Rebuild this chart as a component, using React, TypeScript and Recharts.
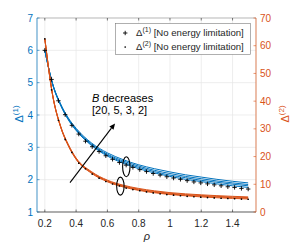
import React from 'react';
import { LineChart, Line, XAxis, YAxis, CartesianGrid, Legend, ReferenceDot, ReferenceLine } from 'recharts';

const BLUE = '#0072BD';
const ORANGE = '#D95319';
const AXIS = '#262626';
const FONT = '"Liberation Sans", Arial, Helvetica, sans-serif';

// rho sample points of the "no energy limitation" markers
const rhoMarkers = [0.2, 0.243, 0.287, 0.33, 0.373, 0.417, 0.46, 0.503, 0.547, 0.59, 0.633, 0.677, 0.72, 0.763, 0.807, 0.85, 0.893, 0.937, 0.98, 1.023, 1.067, 1.11, 1.153, 1.197, 1.24, 1.283, 1.327, 1.37, 1.413, 1.457, 1.5];
const delta1NoLimit = [6.0, 5.1, 4.44, 4.01, 3.68, 3.41, 3.19, 3.02, 2.87, 2.74, 2.63, 2.53, 2.45, 2.38, 2.31, 2.25, 2.19, 2.14, 2.09, 2.05, 2.01, 1.97, 1.93, 1.9, 1.87, 1.84, 1.81, 1.78, 1.76, 1.73, 1.71];
const delta2NoLimit = [62.5, 44.1, 33.1, 26.2, 21.5, 17.6, 15.6, 13.7, 12.2, 11.0, 10.1, 9.4, 8.65, 8.1, 7.7, 7.23, 6.88, 6.57, 6.3, 6.06, 5.86, 5.67, 5.5, 5.35, 5.21, 5.09, 4.97, 4.87, 4.78, 4.68, 4.6];

// rho sample points of the curves for each B
const rhoLines = [0.2, 0.25, 0.3, 0.35, 0.4, 0.5, 0.6, 0.7, 0.8, 0.9, 1.0, 1.1, 1.2, 1.3, 1.4, 1.5];
const bValues = [20, 5, 3, 2];
const delta1B20 = [6.0, 4.94, 4.31, 3.85, 3.52, 3.05, 2.73, 2.51, 2.34, 2.21, 2.10, 2.01, 1.94, 1.87, 1.81, 1.76];
const delta1B5 = [6.0, 4.95, 4.32, 3.87, 3.54, 3.07, 2.76, 2.54, 2.38, 2.25, 2.14, 2.06, 1.98, 1.92, 1.86, 1.81];
const delta1B3 = [6.0, 4.96, 4.34, 3.89, 3.56, 3.10, 2.79, 2.58, 2.42, 2.29, 2.19, 2.10, 2.03, 1.96, 1.90, 1.85];
const delta1B2 = [6.0, 4.97, 4.35, 3.91, 3.59, 3.13, 2.83, 2.62, 2.46, 2.34, 2.24, 2.15, 2.08, 2.01, 1.95, 1.90];
const delta2B20 = [62.5, 42.0, 30.8, 23.9, 19.0, 13.9, 10.9, 9.05, 7.8, 6.95, 6.3, 5.85, 5.45, 5.15, 4.9, 4.7];
const delta2B5 = [62.5, 42.1, 30.9, 24.0, 19.1, 14.1, 11.1, 9.25, 8.0, 7.15, 6.5, 6.05, 5.7, 5.4, 5.15, 4.95];
const delta2B3 = [62.5, 42.2, 31.0, 24.2, 19.3, 14.3, 11.3, 9.45, 8.25, 7.4, 6.75, 6.3, 5.95, 5.65, 5.4, 5.2];
const delta2B2 = [62.5, 42.3, 31.2, 24.4, 19.5, 14.5, 11.5, 9.7, 8.5, 7.65, 7.0, 6.55, 6.2, 5.9, 5.65, 5.45];

const xTicks = [0.2, 0.4, 0.6, 0.8, 1, 1.2, 1.4];
const leftTicks = [1, 2, 3, 4, 5, 6, 7];
const rightTicks = [0, 10, 20, 30, 40, 50, 60, 70];

// annotation anchors (data coordinates, left axis)
const arrowStart = { x: 0.361, y: 1.906 };
const arrowEnd = { x: 0.649, y: 3.74 };
const ellipseBlue = { x: 0.721, y: 2.4 };
const ellipseOrange = { x: 0.683, y: 1.8 };
const textAnchor = { x: 0.502, y: 4.4 };
const annotationLines = ['decreases', '[20, 5, 3, 2]'];

const toPts = (xs: number[], ys: number[]) => xs.map((x, i) => ({ x, y: ys[i] }));

const blueSeries = [delta1B20, delta1B5, delta1B3, delta1B2];
const orangeSeries = [delta2B20, delta2B5, delta2B3, delta2B2];

const PlusDot = (props: any) => {
  const { cx, cy, index } = props;
  if (cx == null || cy == null) return null;
  return (
    <path key={`p${index}`} d={`M${cx - 2.2},${cy}H${cx + 2.2}M${cx},${cy - 2.2}V${cy + 2.2}`} stroke="#000" strokeWidth={0.9} fill="none" />
  );
};
const SmallDot = (props: any) => {
  const { cx, cy, index } = props;
  if (cx == null || cy == null) return null;
  return <circle key={`d${index}`} cx={cx} cy={cy} r={0.85} fill="#000" />;
};

const XTick = (props: any) => {
  const { x, y, payload } = props;
  return (
    <g>
      <line x1={x} x2={x} y1={y} y2={y - 2.5} stroke={AXIS} strokeWidth={0.6} />
      <line x1={x} x2={x} y1={y - 194} y2={y - 191.5} stroke={AXIS} strokeWidth={0.6} />
      <text x={x} y={y + 15} textAnchor="middle" fill={AXIS} fontSize={10} fontFamily={FONT}>{payload.value}</text>
    </g>
  );
};
const LeftTick = (props: any) => {
  const { x, y, payload } = props;
  return (
    <g>
      <line x1={x} x2={x + 2.5} y1={y} y2={y} stroke={BLUE} strokeWidth={0.6} />
      <text x={x - 4} y={y} dy="0.36em" textAnchor="end" fill={BLUE} fontSize={10} fontFamily={FONT}>{payload.value}</text>
    </g>
  );
};
const RightTick = (props: any) => {
  const { x, y, payload } = props;
  return (
    <g>
      <line x1={x} x2={x - 2.5} y1={y} y2={y} stroke={ORANGE} strokeWidth={0.6} />
      <text x={x + 4} y={y} dy="0.36em" textAnchor="start" fill={ORANGE} fontSize={10} fontFamily={FONT}>{payload.value}</text>
    </g>
  );
};

const LegendBox = () => (
  <svg width={137} height={33} style={{ display: 'block' }}>
    <rect x={0.5} y={0.5} width={135} height={31} fill="#fff" stroke="#7a7a7a" strokeWidth={0.6} />
    <path d="M8,10H12.4M10.2,7.8V12.2" stroke="#000" strokeWidth={0.9} />
    <circle cx={10.2} cy={24} r={0.85} fill="#000" />
    <text x={21} y={13} fontSize={9.6} fill={AXIS} fontFamily={FONT}>
      Δ<tspan dy={-3.8} fontSize={7}>(1)</tspan><tspan dy={3.8}> [No energy limitation]</tspan>
    </text>
    <text x={21} y={27} fontSize={9.6} fill={AXIS} fontFamily={FONT}>
      Δ<tspan dy={-3.8} fontSize={7}>(2)</tspan><tspan dy={3.8}> [No energy limitation]</tspan>
    </text>
  </svg>
);

const Ellipse = (ry: number) => (props: any) => {
  const { cx, cy } = props;
  if (cx == null) return null;
  return <ellipse cx={cx} cy={cy} rx={3.7} ry={ry} fill="none" stroke="#000" strokeWidth={1.1} />;
};

const AnnotationText = (props: any) => {
  const { cx, cy } = props;
  if (cx == null) return null;
  return (
    <text x={cx} y={cy} fontSize={11} fill="#000" fontFamily={FONT}>
      <tspan fontStyle="italic">B</tspan>
      <tspan> {annotationLines[0]}</tspan>
      <tspan x={cx} dy={12}>{annotationLines[1]}</tspan>
    </text>
  );
};

const Arrow = (props: any) => {
  const { x1, y1, x2, y2 } = props;
  if (x1 == null) return null;
  const ang = Math.atan2(y2 - y1, x2 - x1);
  const L = 6;
  const W = 2.6;
  const bx = x2 - L * Math.cos(ang);
  const by = y2 - L * Math.sin(ang);
  const px = -Math.sin(ang) * W;
  const py = Math.cos(ang) * W;
  return (
    <g>
      <line x1={x1} y1={y1} x2={bx} y2={by} stroke="#000" strokeWidth={1.1} />
      <polygon points={`${x2},${y2} ${bx + px},${by + py} ${bx - px},${by - py}`} fill="#000" />
    </g>
  );
};

export default function App() {
  return (
    <div style={{ position: 'fixed', left: 0, top: 0, width: 291, height: 244, background: '#fff' }}>
      <LineChart width={291} height={244} margin={{ top: 18, right: 5, bottom: 7, left: 7 }} style={{ fontFamily: FONT }}>
        <CartesianGrid yAxisId="left" stroke="#e6e6e6" strokeWidth={0.7} />
        <XAxis
          dataKey="x"
          type="number"
          domain={[0.15, 1.55]}
          ticks={xTicks}
          allowDataOverflow
          height={25}
          tickSize={0}
          tickMargin={0}
          tick={<XTick />}
          axisLine={{ stroke: AXIS, strokeWidth: 0.7 }}
          tickLine={false}
          label={{
            content: () => (
              <text x={147} y={240} textAnchor="middle" fontStyle="italic" fontSize={11} fill={AXIS} fontFamily={FONT}>ρ</text>
            ),
          }}
        />
        <YAxis
          yAxisId="left"
          orientation="left"
          domain={[1, 7]}
          ticks={leftTicks}
          width={30}
          tickSize={0}
          tickMargin={0}
          tick={<LeftTick />}
          axisLine={{ stroke: BLUE, strokeWidth: 0.7 }}
          tickLine={false}
          allowDataOverflow
          label={{
            content: () => (
              <text transform="rotate(-90 23 114)" x={23} y={114} textAnchor="middle" fontSize={11} fill={BLUE} fontFamily={FONT}>
                Δ<tspan dy={-5} fontSize={8}>(1)</tspan>
              </text>
            ),
          }}
        />
        <YAxis
          yAxisId="right"
          orientation="right"
          domain={[0, 70]}
          ticks={rightTicks}
          width={30}
          tickSize={0}
          tickMargin={0}
          tick={<RightTick />}
          axisLine={{ stroke: ORANGE, strokeWidth: 0.7 }}
          tickLine={false}
          allowDataOverflow
          label={{
            content: () => (
              <text transform="rotate(-90 289 114)" x={289} y={114} textAnchor="middle" fontSize={11} fill={ORANGE} fontFamily={FONT}>
                Δ<tspan dy={-5} fontSize={8}>(2)</tspan>
              </text>
            ),
          }}
        />
        <ReferenceLine yAxisId="left" y={7} stroke="#a6a6a6" strokeWidth={0.7} />

        {blueSeries.map((s, i) => (
          <Line
            key={`b${bValues[i]}`}
            yAxisId="left"
            data={toPts(rhoLines, s)}
            dataKey="y"
            type="monotone"
            stroke={BLUE}
            strokeWidth={1}
            dot={false}
            isAnimationActive={false}
            name={`Δ(1) B=${bValues[i]}`}
          />
        ))}
        {orangeSeries.map((s, i) => (
          <Line
            key={`o${bValues[i]}`}
            yAxisId="right"
            data={toPts(rhoLines, s)}
            dataKey="y"
            type="monotone"
            stroke={ORANGE}
            strokeWidth={1}
            dot={false}
            isAnimationActive={false}
            name={`Δ(2) B=${bValues[i]}`}
          />
        ))}
        <Line
          yAxisId="left"
          data={toPts(rhoMarkers, delta1NoLimit)}
          dataKey="y"
          stroke="none"
          dot={PlusDot}
          isAnimationActive={false}
          name="Δ(1) [No energy limitation]"
        />
        <Line
          yAxisId="right"
          data={toPts(rhoMarkers, delta2NoLimit)}
          dataKey="y"
          stroke="none"
          dot={SmallDot}
          isAnimationActive={false}
          name="Δ(2) [No energy limitation]"
        />

        <ReferenceLine yAxisId="left" segment={[arrowStart, arrowEnd]} shape={<Arrow />} ifOverflow="visible" />
        <ReferenceDot yAxisId="left" x={ellipseBlue.x} y={ellipseBlue.y} shape={Ellipse(10)} />
        <ReferenceDot yAxisId="left" x={ellipseOrange.x} y={ellipseOrange.y} shape={Ellipse(9)} />
        <ReferenceDot yAxisId="left" x={textAnchor.x} y={textAnchor.y} shape={AnnotationText} />

        <Legend
          layout="horizontal"
          verticalAlign="middle"
          align="center"
          content={() => <LegendBox />}
          wrapperStyle={{ position: 'absolute', left: 115, top: 23, width: 137, height: 33 }}
        />
      </LineChart>
    </div>
  );
}
